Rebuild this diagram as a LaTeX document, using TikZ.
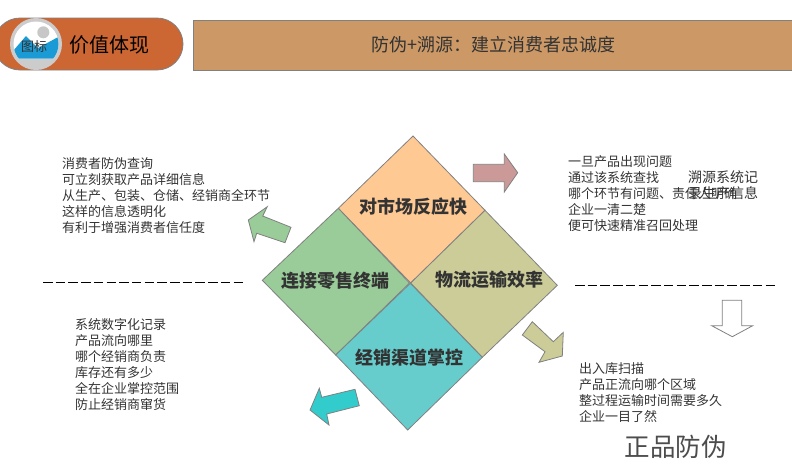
\documentclass[tikz,border=0pt]{standalone}
\usepackage{fontspec}
\setmainfont{Noto Sans CJK SC}
\definecolor{pillorange}{RGB}{204, 102, 51}
\definecolor{bannertan}{RGB}{204, 153, 102}
\definecolor{edgegray}{RGB}{128, 128, 128}
\definecolor{inkgray}{RGB}{51, 51, 51}
\definecolor{iconblue}{RGB}{26, 155, 214}
\definecolor{peach}{RGB}{255, 201, 148}
\definecolor{leafgreen}{RGB}{153, 204, 153}
\definecolor{khaki}{RGB}{204, 204, 153}
\definecolor{seateal}{RGB}{102, 204, 204}
\definecolor{rosered}{RGB}{204, 153, 153}
\definecolor{brightteal}{RGB}{51, 204, 204}
\tikzset{
  panel/.style={draw=edgegray, line width=0.8pt},
  quadlabel/.style={font=\fontsize{18}{20}\selectfont\bfseries, text=inkgray, inner sep=0pt},
  notetext/.style={font=\fontsize{13}{16}\selectfont, text=inkgray, align=left, anchor=north west, inner sep=0pt},
  divider/.style={line width=0.8pt, black, dash pattern=on 9.5pt off 3.2pt}
}
\begin{document}
\begin{tikzpicture}[x=1pt, y=-1pt]
    \useasboundingbox (0, 0) rectangle (792, 464);
    \clip (0, 0) rectangle (792, 464);

    % Header
    \draw[panel, fill=pillorange, rounded corners=26pt] (-6, 18) rectangle (183, 70);
    \draw[panel, fill=bannertan] (193, 20) rectangle (800, 70);
    \node (banner) at (493, 45) [font=\fontsize{18}{20}\selectfont, text=inkgray, inner sep=0pt] {防伪+溯源：建立消费者忠诚度};
    \node (title) at (109.5, 45) [font=\fontsize{20}{24}\selectfont, text=black, inner sep=0pt] {价值体现};

    % Icon
    \fill[white!80!black] (36, 44) circle (26);
    \begin{scope}
        \clip (10, 18) rectangle (62, 58.5);
        \clip (36, 44) circle (22.5);
        \fill[white] (10, 18) rectangle (62, 58.5);
        \fill[iconblue] (13, 58.5) -- (13, 51) -- (26, 36) -- (38, 48) -- (60, 36) -- (60, 58.5) -- cycle;
    \end{scope}
    \fill[white!78!black] (43.3, 32.3) circle (6);
    \node (icon) at (34, 46.5) [font=\fontsize{13}{16}\selectfont, text=inkgray, inner sep=0pt] {图标};

    % Four quadrants
    \draw[panel, fill=peach] (413, 136) -- (485, 210.3) -- (410.7, 283) -- (338.3, 208.3) -- cycle;
    \draw[panel, fill=leafgreen] (338.3, 208.3) -- (409.5, 283) -- (335.7, 355) -- (262.3, 280.3) -- cycle;
    \draw[panel, fill=khaki] (485, 210.3) -- (557.3, 285.3) -- (482.3, 357.3) -- (410.7, 283) -- cycle;
    \draw[panel, fill=seateal] (410.3, 283.3) -- (482.3, 357.3) -- (407.7, 430) -- (335.7, 355) -- cycle;

    \node[quadlabel] (market) at (413, 207) {对市场反应快};
    \node[quadlabel] (retail) at (335, 281) {连接零售终端};
    \node[quadlabel] (logistics) at (489, 279.5) {物流运输效率};
    \node[quadlabel] (channel) at (409, 358) {经销渠道掌控};

    % Arrows
    \draw[panel, fill=rosered] (473.3, 164.3) -- (504.3, 164.3) -- (504.3, 154) -- (517.7, 172.7) -- (504.3, 192) -- (504.3, 181.7) -- (473.3, 181.7) -- cycle;
    \draw[panel, fill=leafgreen] (291, 227.3) -- (262.7, 216) -- (267.3, 206.7) -- (248.3, 220) -- (254, 241.7) -- (256.7, 233.3) -- (285, 242.7) -- cycle;
    \draw[panel, fill=khaki] (532.3, 321.7) -- (553.3, 341.7) -- (563.3, 332.3) -- (562.3, 356) -- (539, 362.3) -- (545, 351.7) -- (522.3, 335) -- cycle;
    \draw[panel, fill=brightteal] (355, 389.3) -- (321.7, 397.3) -- (319.3, 388.3) -- (310, 410) -- (329, 425) -- (326.7, 414) -- (359.3, 405.7) -- cycle;
    \draw[panel, fill=white] (722.3, 300.3) -- (741.7, 300.3) -- (741.7, 325.7) -- (752.7, 325.7) -- (732.3, 336.7) -- (711.7, 325.7) -- (722.3, 325.7) -- cycle;

    % Dashed dividers
    \draw[divider] (43, 282) -- (243, 282);
    \draw[divider] (575, 285) -- (776, 285);

    % Notes
    \node[notetext] (noteleft) at (62, 157) {消费者防伪查询\\可立刻获取产品详细信息\\从生产、包装、仓储、经销商全环节\\这样的信息透明化\\有利于增强消费者信任度};
    \node[notetext] (noteright) at (568, 155.5) {一旦产品出现问题\\通过该系统查找\\哪个环节有问题、责任人明确\\企业一清二楚\\便可快速精准召回处理};
    \node[notetext, font=\fontsize{14}{16}\selectfont] (noteextra) at (688, 170) {溯源系统记\\录生产信息};
    \node[notetext] (notelower) at (75, 318) {系统数字化记录\\产品流向哪里\\哪个经销商负责\\库存还有多少\\全在企业掌控范围\\防止经销商窜货};
    \node[notetext] (notestock) at (579, 362) {出入库扫描\\产品正流向哪个区域\\整过程运输时间需要多久\\企业一目了然};
    \node (genuine) at (675.5, 447) [font=\fontsize{25.5}{28}\selectfont, text=black!70, inner sep=0pt] {正品防伪};
\end{tikzpicture}
\end{document}
